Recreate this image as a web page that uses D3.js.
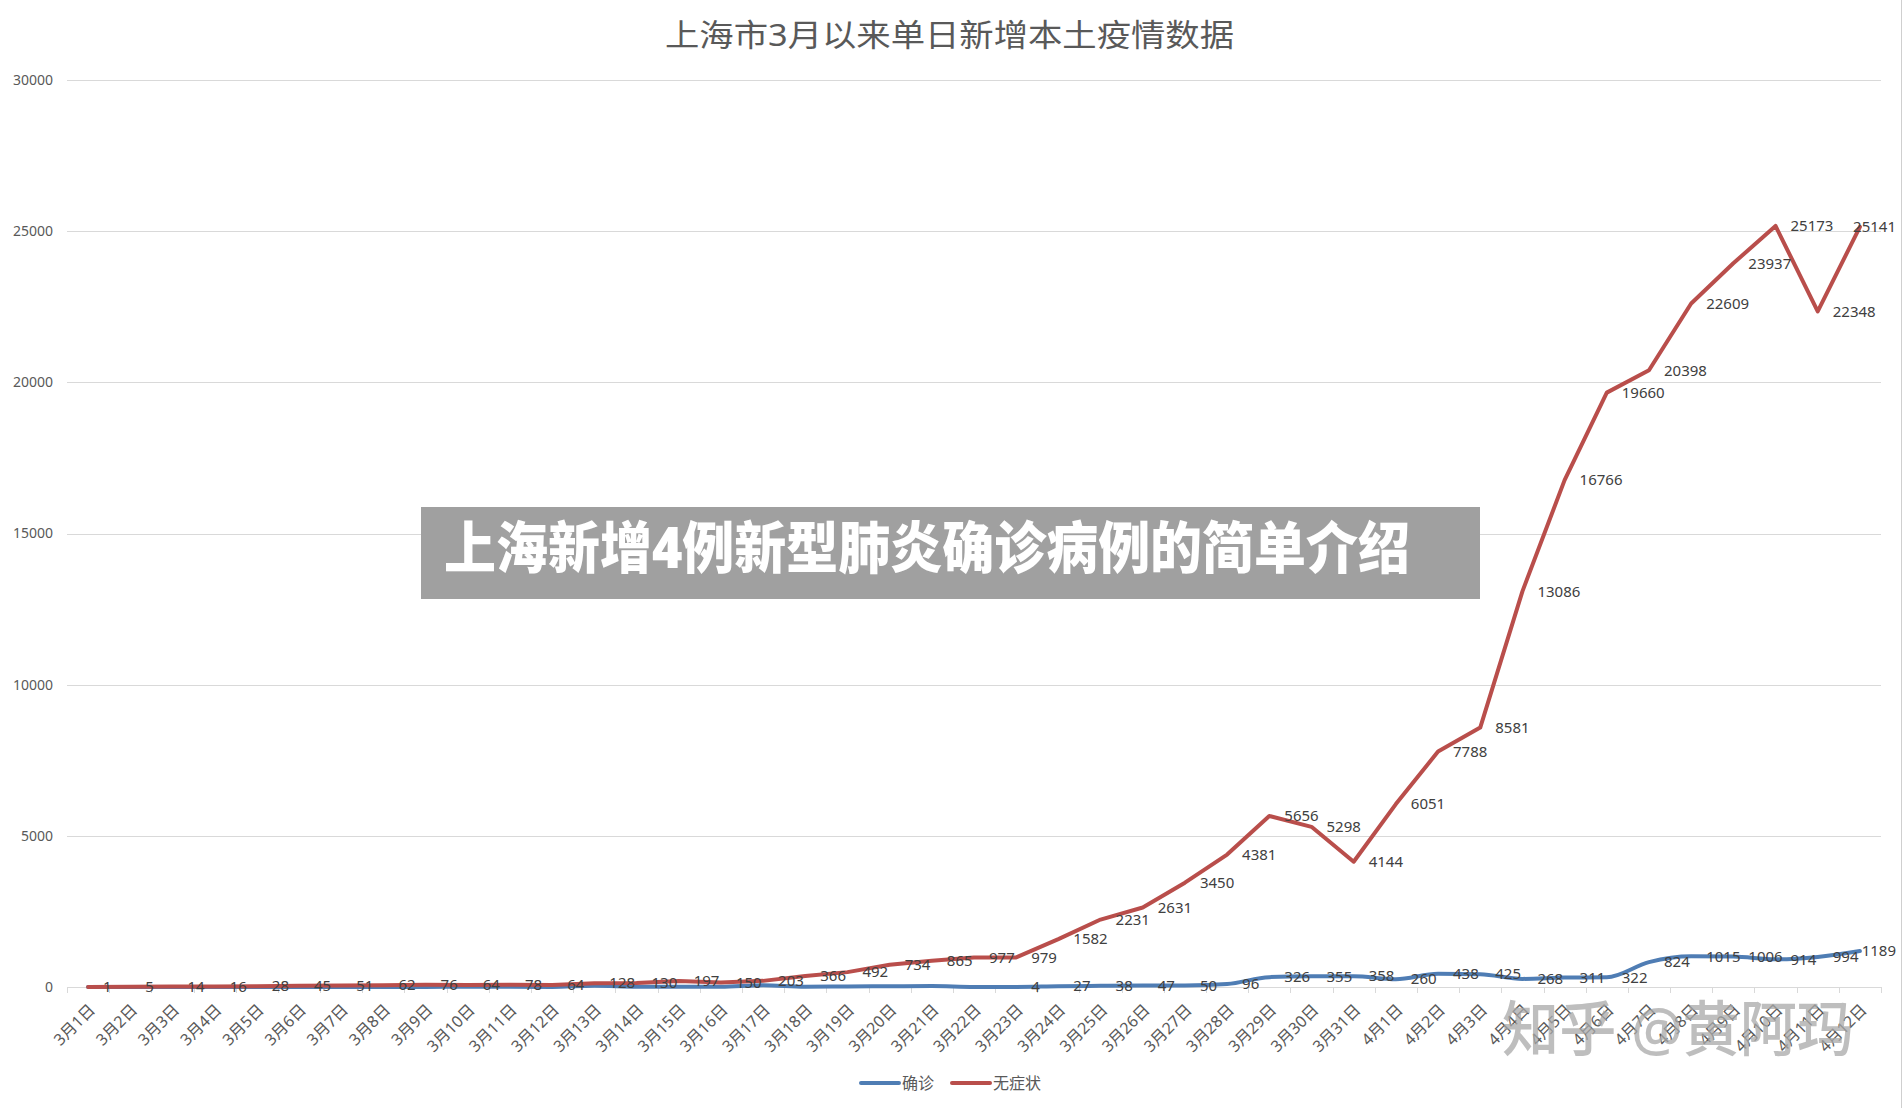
<!DOCTYPE html>
<html>
<head>
<meta charset="utf-8">
<script src="https://cdn.jsdelivr.net/npm/d3@7"></script>
<style>
  body { margin: 0; background: #fff; }
  svg { display: block; }
  text { font-family: "Noto Sans", "Noto Sans CJK SC", sans-serif; }
</style>
</head>
<body>
<svg id="chart" width="1903" height="1108"></svg>
<script>
// data
const categories = [
  '3月1日', '3月2日', '3月3日', '3月4日', '3月5日', '3月6日', '3月7日', '3月8日', '3月9日', '3月10日',
  '3月11日', '3月12日', '3月13日', '3月14日', '3月15日', '3月16日', '3月17日', '3月18日', '3月19日', '3月20日',
  '3月21日', '3月22日', '3月23日', '3月24日', '3月25日', '3月26日', '3月27日', '3月28日', '3月29日', '3月30日',
  '3月31日', '4月1日', '4月2日', '4月3日', '4月4日', '4月5日', '4月6日', '4月7日', '4月8日', '4月9日',
  '4月10日', '4月11日', '4月12日'
];

// 确诊 — early values sit under the red line and have no visible labels, so they are estimates
const confirmed = [
  1, 3, 2, 3, 0, 3, 3, 3, 4, 11,
  5, 1, 41, 9, 5, 8, 57, 8, 17, 24,
  31, 4, 4, 27, 38, 47, 50, 96, 326, 355,
  358, 260, 438, 425, 268, 311, 322, 824, 1015, 1006,
  914, 994, 1189
];
const confirmedLabelFrom = 22;

// 无症状
const asymptomatic = [
  1, 5, 14, 16, 28, 45, 51, 62, 76, 64,
  78, 64, 128, 130, 197, 150, 203, 366, 492, 734,
  865, 977, 979, 1582, 2231, 2631, 3450, 4381, 5656, 5298,
  4144, 6051, 7788, 8581, 13086, 16766, 19660, 20398, 22609, 23937,
  25173, 22348, 25141
];

const yTicks = [0, 5000, 10000, 15000, 20000, 25000, 30000];
const seriesNames = ['确诊', '无症状'];

const title = '上海市3月以来单日新增本土疫情数据';
const bannerText = '上海新增4例新型肺炎确诊病例的简单介绍';
const watermark = '知乎 @黄阿玛';

const blue = '#4f7db4';
const red = '#b94e4b';
const gridColor = '#d9d9d9';
const textColor = '#595959';

const svg = d3.select('#chart');

const x = d3.scaleBand()
  .domain(categories)
  .range([67, 1881]);
const cx = d => x(d) + x.bandwidth() / 2;

const y = d3.scaleLinear()
  .domain([0, 30000])
  .range([987, 80]);

// right border of the picture
svg.append('line')
  .attr('x1', 1901.5).attr('x2', 1901.5)
  .attr('y1', 0).attr('y2', 1108)
  .attr('stroke', '#cfcfcf');

// title
svg.append('text')
  .attr('x', 665)
  .attr('y', 46)
  .attr('font-size', 31)
  .attr('fill', textColor)
  .attr('textLength', 569)
  .attr('lengthAdjust', 'spacingAndGlyphs')
  .text(title);

// gridlines + y labels
svg.append('g')
  .selectAll('line')
  .data(yTicks.filter(d => d > 0))
  .enter()
  .append('line')
  .attr('x1', 67).attr('x2', 1881)
  .attr('y1', d => Math.round(y(d)) + 0.5)
  .attr('y2', d => Math.round(y(d)) + 0.5)
  .attr('stroke', gridColor);

svg.append('g')
  .selectAll('text')
  .data(yTicks)
  .enter()
  .append('text')
  .attr('x', 53)
  .attr('y', d => y(d))
  .attr('dy', '0.35em')
  .attr('text-anchor', 'end')
  .attr('font-size', 14)
  .attr('fill', textColor)
  .text(d => d);

// x axis line and ticks
svg.append('line')
  .attr('x1', 67).attr('x2', 1881)
  .attr('y1', 987.5).attr('y2', 987.5)
  .attr('stroke', gridColor);

svg.append('g')
  .selectAll('line')
  .data(categories.concat(['end']))
  .enter()
  .append('line')
  .attr('x1', (d, i) => Math.round(67 + i * x.bandwidth()) + 0.5)
  .attr('x2', (d, i) => Math.round(67 + i * x.bandwidth()) + 0.5)
  .attr('y1', 987).attr('y2', 993)
  .attr('stroke', gridColor);

svg.append('g')
  .selectAll('text')
  .data(categories)
  .enter()
  .append('text')
  .attr('transform', d => `translate(${cx(d) + 4},${1007}) rotate(-45)`)
  .attr('dy', '0.35em')
  .attr('text-anchor', 'end')
  .attr('font-size', 16)
  .attr('fill', textColor)
  .text(d => d);

// lines
const blueLine = d3.line()
  .x((d, i) => cx(categories[i]))
  .y(d => y(d))
  .curve(d3.curveMonotoneX);

const redLine = d3.line()
  .x((d, i) => cx(categories[i]))
  .y(d => y(d));

svg.append('path')
  .datum(confirmed)
  .attr('d', blueLine)
  .attr('fill', 'none')
  .attr('stroke', blue)
  .attr('stroke-width', 4)
  .attr('stroke-linejoin', 'round')
  .attr('stroke-linecap', 'round');

svg.append('path')
  .datum(asymptomatic)
  .attr('d', redLine)
  .attr('fill', 'none')
  .attr('stroke', red)
  .attr('stroke-width', 4)
  .attr('stroke-linejoin', 'round')
  .attr('stroke-linecap', 'round');

// data labels, to the right of each point, kept inside the picture
function addLabels(values, from) {
  const g = svg.append('g');
  values.forEach((v, i) => {
    if (i < from) return;
    const t = g.append('text')
      .attr('x', cx(categories[i]) + 15)
      .attr('y', y(v))
      .attr('dy', '0.35em')
      .attr('font-size', 15)
      .attr('fill', '#404040')
      .text(v);
    const w = t.node().getComputedTextLength();
    if (cx(categories[i]) + 15 + w > 1896) t.attr('x', 1896 - w);
  });
}
addLabels(asymptomatic, 0);
addLabels(confirmed, confirmedLabelFrom);

// legend
const legend = svg.append('g');
[[861, 902, blue], [952, 993, red]].forEach((p, i) => {
  legend.append('line')
    .attr('x1', p[0]).attr('x2', p[0] + 38)
    .attr('y1', 1083).attr('y2', 1083)
    .attr('stroke', p[2])
    .attr('stroke-width', 4)
    .attr('stroke-linecap', 'round');
  legend.append('text')
    .attr('x', p[1])
    .attr('y', 1089)
    .attr('font-size', 16)
    .attr('fill', textColor)
    .text(seriesNames[i]);
});

// banner overlay
svg.append('rect')
  .attr('x', 421).attr('y', 507)
  .attr('width', 1059).attr('height', 92)
  .attr('fill', '#a0a0a0');

svg.append('text')
  .attr('x', 444)
  .attr('y', 568)
  .attr('font-size', 56)
  .attr('font-weight', 900)
  .attr('fill', '#ffffff')
  .attr('textLength', 966)
  .attr('lengthAdjust', 'spacingAndGlyphs')
  .text(bannerText);

// watermark
svg.append('text')
  .attr('x', 1502)
  .attr('y', 1051)
  .attr('font-size', 60)
  .attr('font-weight', 500)
  .attr('fill', '#a8a8a8')
  .attr('fill-opacity', 0.75)
  .attr('textLength', 352)
  .attr('lengthAdjust', 'spacingAndGlyphs')
  .text(watermark);
</script>
</body>
</html>
